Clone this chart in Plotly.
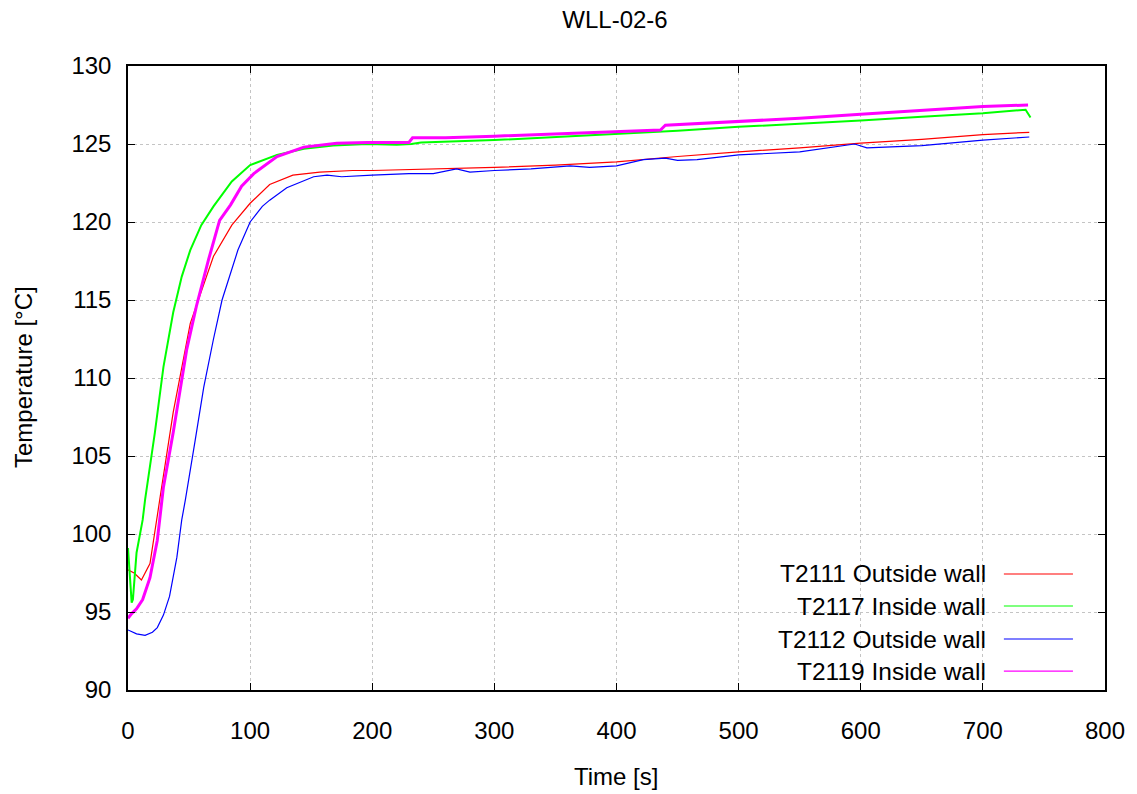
import plotly.graph_objects as go

# ---------------- data ----------------
names = ["T2111 Outside wall", "T2117 Inside wall", "T2112 Outside wall", "T2119 Inside wall"]
colors = ["#ff0000", "#00ff00", "#0000ff", "#ff00ff"]
widths = [1.2, 2.0, 1.2, 3.0]

t_red = [0, 5, 11, 18, 26, 37, 51, 70, 85, 100, 116, 135, 157, 184, 200, 250, 300,
         350, 400, 450, 500, 550, 600, 650, 700, 738]
T_red = [97.7, 97.5, 97.05, 98.1, 102.2, 107.8, 113.5, 117.8, 119.8, 121.2, 122.4, 123.0,
         123.2, 123.3, 123.3, 123.4, 123.5, 123.65, 123.85, 124.2, 124.5, 124.75, 125.05,
         125.3, 125.6, 125.75]

t_green = [0, 2, 3, 4, 7, 12, 14, 22, 29, 37, 44, 51, 60, 70, 85, 100, 122, 144, 168,
           196, 220, 232, 240, 300, 350, 400, 450, 500, 550, 600, 650, 700, 735, 739]
T_green = [99.1, 97.0, 95.6, 95.8, 98.8, 100.9, 102.2, 106.5, 110.7, 114.2, 116.5, 118.2,
           119.8, 121.0, 122.6, 123.65, 124.3, 124.7, 124.9, 125.0, 124.95, 125.0, 125.1,
           125.25, 125.45, 125.64, 125.85, 126.1, 126.3, 126.5, 126.75, 126.97, 127.2, 126.7]

t_blue = [0, 7, 14, 20, 24, 29, 34, 40, 44, 47, 55, 62, 70, 77, 90, 100, 110, 116, 130,
          152, 163, 175, 200, 230, 250, 269, 280, 300, 330, 362, 378, 400, 422, 440, 450,
          466, 500, 550, 595, 605, 650, 700, 738]
T_blue = [93.85, 93.6, 93.5, 93.7, 94.0, 94.8, 96.0, 98.5, 100.9, 102.2, 106.0, 109.4,
          112.5, 115.0, 118.2, 120.0, 121.0, 121.4, 122.2, 122.9, 123.0, 122.9, 123.0,
          123.1, 123.1, 123.4, 123.2, 123.3, 123.4, 123.6, 123.5, 123.6, 124.0, 124.1,
          123.95, 124.0, 124.3, 124.5, 125.0, 124.75, 124.9, 125.25, 125.45]

t_mag = [0, 3, 7, 12, 18, 24, 29, 37, 48, 56, 66, 75, 84, 93, 103, 122, 144, 171, 196,
         230, 233, 260, 300, 350, 400, 436, 440, 500, 550, 600, 650, 700, 737]
T_mag = [94.6, 94.9, 95.2, 95.8, 97.2, 99.6, 103.0, 106.5, 111.8, 114.6, 117.6, 120.1,
         121.1, 122.3, 123.1, 124.2, 124.8, 125.05, 125.1, 125.1, 125.4, 125.4, 125.5,
         125.65, 125.8, 125.9, 126.2, 126.43, 126.65, 126.9, 127.15, 127.4, 127.5]

x_ticks = [0, 100, 200, 300, 400, 500, 600, 700, 800]
y_ticks = [90, 95, 100, 105, 110, 115, 120, 125, 130]

series = [(t_red, T_red), (t_green, T_green), (t_blue, T_blue), (t_mag, T_mag)]

FONT = "Liberation Sans, Arial, sans-serif"
FS = 24

W, H = 1137, 794
ML, MT, PW, PH = 128, 66, 977, 624

fig = go.Figure()
for (tx, ty), n, c, w in zip(series, names, colors, widths):
    fig.add_trace(go.Scatter(x=tx, y=ty, mode="lines", name=n,
                             line=dict(color=c, width=w), showlegend=False))

axis_common = dict(
    showline=True, linecolor="black", linewidth=1.5, mirror="ticks",
    ticks="inside", ticklen=7, tickcolor="black", tickwidth=1.2,
    showgrid=True, gridcolor="#c4c4c4", griddash="3px,3px", gridwidth=1,
    zeroline=False, automargin=False,
    tickfont=dict(family=FONT, size=FS, color="black"),
)

fig.update_xaxes(range=[0, 800], tickvals=x_ticks, ticktext=[str(v) for v in x_ticks],
                 ticklabelstandoff=18, **axis_common)
fig.update_yaxes(range=[90, 130], tickvals=y_ticks, ticktext=[str(v) for v in y_ticks],
                 ticklabelstandoff=10, **axis_common)

# legend-like box (gnuplot style: text left of line sample)
shapes = [dict(type="rect", xref="paper", yref="paper", x0=0.594, x1=0.991, y0=0.007,
               y1=0.221, fillcolor="white", line=dict(width=0), layer="between")]
annotations = []
rows_y = [0.1859, 0.1346, 0.0817, 0.0304]
for n, c, yy in zip(names, colors, rows_y):
    annotations.append(dict(text=n, xref="paper", yref="paper", x=0.8803, y=yy,
                            xanchor="right", yanchor="middle", showarrow=False,
                            font=dict(family=FONT, size=FS + 0.5, color="black")))
    shapes.append(dict(type="line", xref="paper", yref="paper", x0=0.8965, x1=0.9672,
                       y0=yy, y1=yy, line=dict(color=c, width=1.2), layer="above"))

annotations.append(dict(text="Time [s]", xref="paper", yref="paper",
                        x=(616 - ML) / PW, y=-(776 - MT - PH) / PH,
                        xanchor="center", yanchor="middle", showarrow=False,
                        font=dict(family=FONT, size=FS, color="black")))
annotations.append(dict(text="Temperature [°C]", xref="paper", yref="paper",
                        x=(23 - ML) / PW, y=(MT + PH - 377) / PH, textangle=-90,
                        xanchor="center", yanchor="middle", showarrow=False,
                        font=dict(family=FONT, size=FS, color="black")))

fig.update_layout(
    width=W, height=H,
    margin=dict(l=ML, r=W - ML - PW, t=MT, b=H - MT - PH),
    paper_bgcolor="white", plot_bgcolor="white",
    title=dict(text="WLL-02-6", x=615 / W, xanchor="center", y=1 - 20 / H,
               yanchor="middle", yref="container",
               font=dict(family=FONT, size=FS, color="black")),
    shapes=shapes, annotations=annotations, showlegend=False,
)

fig.write_html("out.html", config={"displayModeBar": False},
               post_script="document.body.style.margin='0';"
                           "document.body.style.overflow='hidden';")
